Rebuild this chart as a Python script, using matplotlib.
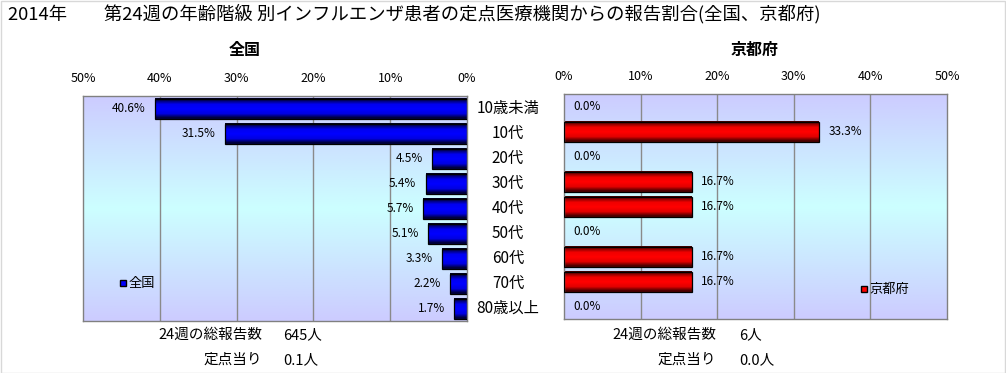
import numpy as np
import matplotlib
matplotlib.use("Agg")
import matplotlib.pyplot as plt
from matplotlib.colors import LinearSegmentedColormap
from matplotlib.patches import Rectangle
import matplotlib.transforms as mtransforms

plt.rcParams['font.family'] = ['Noto Sans CJK JP', 'DejaVu Sans']

# データ
age_groups = ['10歳未満', '10代', '20代', '30代', '40代', '50代', '60代', '70代', '80歳以上']
zenkoku = [40.6, 31.5, 4.5, 5.4, 5.7, 5.1, 3.3, 2.2, 1.7]
kyoto = [0.0, 33.3, 0.0, 16.7, 16.7, 0.0, 16.7, 16.7, 0.0]
ticks = [0, 10, 20, 30, 40, 50]
title = '2014年　　第24週の年齢階級 別インフルエンザ患者の定点医療機関からの報告割合(全国、京都府)'
total_zenkoku = '645人'
total_kyoto = '6人'
per_zenkoku = '0.1人'
per_kyoto = '0.0人'

W, H = 1006, 373
fig = plt.figure(figsize=(W / 100, H / 100), dpi=100)
fig.patch.set_facecolor('white')
fig.add_artist(Rectangle((0.001, 0.001), 0.998, 0.997, transform=fig.transFigure,
                         fill=False, edgecolor='#d8d8d8', linewidth=1))

axL = fig.add_axes([83 / W, 52 / H, 384 / W, 225 / H])
axR = fig.add_axes([564 / W, 54 / H, 383 / W, 225 / H])

bg_cmap = LinearSegmentedColormap.from_list('bg', ['#ccccff', '#ccffff', '#ccccff'])
blue_cmap = LinearSegmentedColormap.from_list(
    'b', [(0, '#000020'), (0.3, '#0000f0'), (0.55, '#0000ff'), (0.8, '#0000e0'), (1, '#000040')])
red_cmap = LinearSegmentedColormap.from_list(
    'r', [(0, '#400000'), (0.3, '#f00000'), (0.55, '#ff0000'), (0.8, '#e00000'), (1, '#500000')])
grad = np.linspace(0, 1, 100).reshape(-1, 1)

y = np.arange(len(age_groups))
bar_h = 0.8
n_strips = 20


def draw_panel(ax, values, cmap, inverted):
    ax.imshow(grad, cmap=bg_cmap, aspect='auto', extent=[0, 1, 0, 1],
              transform=ax.transAxes, zorder=0)
    vals = np.array(values)
    # グラデーションの棒（細い帯を重ねる）
    sh = bar_h / n_strips
    for k in range(n_strips):
        off = -bar_h / 2 + (k + 0.5) * sh
        ax.barh(y + off, vals, height=sh * 1.05, color=cmap(k / (n_strips - 1)),
                linewidth=0, zorder=2)
    bars = ax.barh(y, vals, height=bar_h, color='none', edgecolor='black',
                   linewidth=0.9, zorder=3)
    for b in bars:
        if b.get_width() <= 0:
            b.set_linewidth(0)
    ax.set_ylim(len(age_groups) - 0.5, -0.5)
    if inverted:
        ax.set_xlim(50, 0)
    else:
        ax.set_xlim(0, 50)
    ax.set_xticks(ticks)
    ax.set_xticklabels([f'{t}%' for t in ticks], fontsize=9)
    ax.xaxis.tick_top()
    ax.tick_params(axis='x', length=0, pad=8)
    ax.set_yticks([])
    for t in [10, 20, 30, 40]:
        ax.axvline(t, color='#8a8a8a', linewidth=1, zorder=1)
    for s in ax.spines.values():
        s.set_color('#808080')
        s.set_linewidth(1)
    for i, v in enumerate(values):
        if inverted:
            ax.text(v + 1.2, i, f'{v:.1f}%', ha='right', va='center', fontsize=8.5, zorder=4)
        else:
            ax.text(v + 1.2, i, f'{v:.1f}%', ha='left', va='center', fontsize=8.5, zorder=4)


draw_panel(axL, zenkoku, blue_cmap, True)
draw_panel(axR, kyoto, red_cmap, False)

# 年齢階級ラベル
trans = mtransforms.blended_transform_factory(fig.transFigure, axL.transData)
for i, lab in enumerate(age_groups):
    fig.text(508 / W, i, lab, transform=trans, ha='center', va='center', fontsize=11)

# 凡例
axL.plot([], [], 's', color='#0000ff', markeredgecolor='black', markersize=5, label='全国')
axL.legend(loc='center left', bbox_to_anchor=(0.08, 0.165), frameon=False,
           handlelength=0.6, handletextpad=0.1, borderaxespad=0, fontsize=9.5)
axR.plot([], [], 's', color='#ff0000', markeredgecolor='black', markersize=5, label='京都府')
axR.legend(loc='center left', bbox_to_anchor=(0.76, 0.13), frameon=False,
           handlelength=0.6, handletextpad=0.1, borderaxespad=0, fontsize=9.5)

# タイトル
fig.text(8 / W, 1 - 14 / H, title, ha='left', va='center', fontsize=13.2)
fig.text(245 / W, 1 - 50 / H, '全国', ha='center', va='center', fontsize=11.5, fontweight='bold')
fig.text(755 / W, 1 - 50 / H, '京都府', ha='center', va='center', fontsize=11.5, fontweight='bold')

# 集計
fs = 10.5
fig.text(262 / W, 1 - 335 / H, '24週の総報告数', ha='right', va='center', fontsize=fs)
fig.text(283 / W, 1 - 335 / H, total_zenkoku, ha='left', va='center', fontsize=fs)
fig.text(262 / W, 1 - 360 / H, '定点当り', ha='right', va='center', fontsize=fs)
fig.text(283 / W, 1 - 360 / H, per_zenkoku, ha='left', va='center', fontsize=fs)
fig.text(716 / W, 1 - 335 / H, '24週の総報告数', ha='right', va='center', fontsize=fs)
fig.text(739 / W, 1 - 335 / H, total_kyoto, ha='left', va='center', fontsize=fs)
fig.text(716 / W, 1 - 360 / H, '定点当り', ha='right', va='center', fontsize=fs)
fig.text(739 / W, 1 - 360 / H, per_kyoto, ha='left', va='center', fontsize=fs)

fig.savefig('out.png', dpi=100)
